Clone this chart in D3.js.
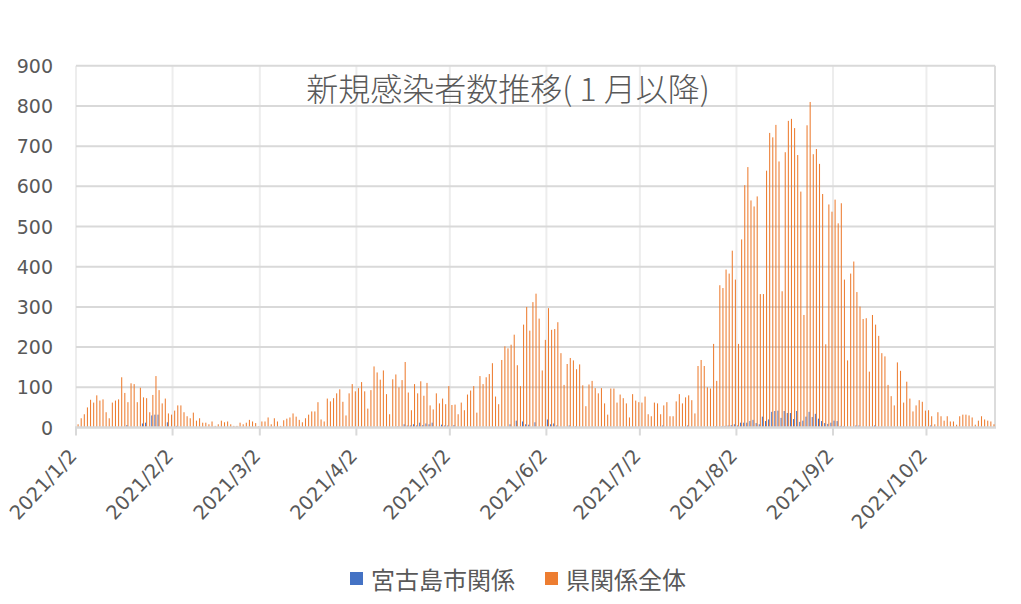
<!DOCTYPE html>
<html lang="ja">
<head>
<meta charset="utf-8">
<script src="https://cdn.jsdelivr.net/npm/d3@7/dist/d3.min.js"></script>
<style>
  html, body { margin: 0; padding: 0; background: #ffffff; }
  svg { display: block; }
</style>
</head>
<body>
<div id="chart"></div>
<script>
// Daily new cases from 2021/1/2 onward
const startDate = "2021-01-02";

// 県関係全体 (prefecture total), one value per day
const prefTotal = [
  8, 23, 33, 50, 69, 62, 80, 67, 70, 38, 23, 62, 67, 70, 125, 86, 63, 110, 108, 63,
  99, 75, 73, 38, 81, 128, 93, 60, 72, 35, 32, 42, 55, 55, 38, 28, 23, 37, 17, 23,
  12, 12, 8, 15, 4, 8, 17, 13, 15, 8, 4, 4, 12, 8, 12, 19, 15, 11, 3, 15,
  15, 25, 8, 23, 15, 4, 18, 22, 25, 35, 27, 19, 13, 23, 32, 40, 40, 63, 20, 15,
  72, 65, 73, 85, 95, 64, 30, 85, 108, 90, 98, 113, 90, 47, 93, 152, 137, 119, 142, 83,
  33, 120, 132, 100, 118, 163, 87, 43, 108, 85, 115, 79, 111, 55, 45, 85, 60, 72, 58, 103,
  56, 57, 33, 62, 43, 82, 92, 103, 37, 128, 108, 125, 133, 160, 77, 58, 168, 202, 197, 206,
  231, 155, 103, 256, 300, 241, 312, 333, 271, 142, 218, 297, 243, 245, 262, 185, 106, 158, 173, 167,
  145, 157, 105, 53, 107, 116, 98, 85, 98, 60, 32, 97, 97, 62, 82, 73, 60, 25, 83, 67,
  63, 62, 77, 33, 28, 62, 60, 33, 55, 63, 28, 28, 65, 83, 60, 75, 80, 68, 35, 153,
  168, 153, 100, 97, 208, 116, 354, 347, 393, 383, 440, 368, 208, 468, 603, 648, 565, 550, 575, 332,
  332, 639, 733, 722, 753, 662, 339, 685, 763, 768, 745, 678, 587, 280, 752, 810, 680, 693, 656, 581,
  207, 555, 537, 567, 508, 558, 368, 167, 383, 413, 337, 301, 270, 272, 139, 280, 256, 228, 185, 177,
  106, 78, 55, 162, 141, 62, 114, 72, 40, 55, 68, 64, 42, 43, 28, 8, 38, 28, 17, 28,
  15, 15, 7, 28, 32, 32, 30, 25, 7, 17, 28, 20, 17, 15, 8
];

// 宮古島市関係 (Miyakojima city), one value per day
const miyakoCity = [
  0, 0, 0, 0, 0, 0, 0, 0, 0, 0, 0, 0, 0, 0, 0, 0, 6, 0, 0, 0,
  0, 10, 12, 0, 30, 32, 32, 0, 0, 13, 0, 0, 4, 0, 0, 0, 0, 0, 0, 0,
  0, 0, 0, 0, 0, 0, 0, 0, 0, 0, 0, 0, 0, 0, 0, 0, 0, 0, 0, 0,
  0, 0, 0, 0, 0, 0, 0, 0, 0, 0, 0, 0, 0, 0, 0, 0, 0, 0, 0, 0,
  0, 0, 0, 0, 0, 0, 0, 0, 0, 0, 0, 0, 0, 0, 0, 0, 0, 0, 0, 0,
  0, 0, 0, 3, 0, 8, 5, 5, 8, 5, 12, 6, 10, 8, 12, 0, 0, 7, 5, 5,
  0, 6, 0, 0, 0, 0, 0, 0, 0, 0, 0, 0, 0, 0, 0, 0, 0, 0, 0, 8,
  0, 17, 0, 15, 8, 7, 0, 13, 0, 0, 0, 20, 8, 10, 5, 0, 0, 0, 5, 0,
  3, 0, 0, 0, 0, 0, 0, 0, 0, 0, 0, 0, 0, 0, 0, 0, 0, 0, 0, 0,
  0, 0, 0, 0, 0, 0, 0, 0, 5, 0, 0, 0, 0, 0, 0, 0, 5, 0, 0, 0,
  0, 0, 0, 0, 0, 3, 0, 3, 4, 5, 6, 8, 5, 12, 12, 12, 16, 19, 11, 8,
  27, 16, 20, 39, 41, 42, 24, 41, 36, 36, 21, 41, 14, 17, 27, 39, 26, 34, 22, 16,
  11, 9, 12, 17, 16, 4, 3, 0, 0, 0, 5, 5, 0, 0, 0, 0, 5, 0, 0, 0,
  0, 0, 0, 0, 0, 0, 0, 0, 0, 0, 0, 0, 0, 0, 5, 0, 0, 0, 0, 0,
  0, 0, 0, 0, 0, 0, 0, 0, 0, 0, 0, 0, 0, 0, 0
];

const seriesNames = ["宮古島市関係", "県関係全体"];
const seriesColors = ["#4472C4", "#ED7D31"];

const yTicks = [0, 100, 200, 300, 400, 500, 600, 700, 800, 900];
const xTickLabels = ["2021/1/2", "2021/2/2", "2021/3/2", "2021/4/2", "2021/5/2",
                     "2021/6/2", "2021/7/2", "2021/8/2", "2021/9/2", "2021/10/2"];

const titleText = "新規感染者数推移( 1 月以降)";

// ---- layout ----
const W = 1021, H = 604;
const plot = { left: 76, right: 995, top: 65.8, bottom: 427.5 };
const numFont = "'DejaVu Sans', sans-serif";
const jpFont = "'Noto Sans CJK JP', 'Noto Sans', sans-serif";
const textColor = "#595959";

const parseDay = d3.utcParse("%Y-%m-%d");
const fmtKey = d3.utcFormat("%Y/%-m/%-d");
const day0 = parseDay(startDate);
const dates = prefTotal.map((_, i) => fmtKey(d3.utcDay.offset(day0, i)));

const rows = dates.map((d, i) => ({ date: d, city: miyakoCity[i], pref: prefTotal[i] }));

const x = d3.scaleBand().domain(dates).range([plot.left, plot.right]).paddingInner(0).paddingOuter(0);
const y = d3.scaleLinear().domain([0, 900]).range([plot.bottom, plot.top]);

const svg = d3.select("#chart").append("svg")
  .attr("width", W).attr("height", H)
  .attr("viewBox", `0 0 ${W} ${H}`);

svg.append("rect").attr("width", W).attr("height", H).attr("fill", "#ffffff");

// vertical gridlines at month ticks
svg.append("g").selectAll("line").data(xTickLabels).join("line")
  .attr("x1", d => x(d)).attr("x2", d => x(d))
  .attr("y1", y(900)).attr("y2", y(0))
  .attr("stroke", "#ededed").attr("stroke-width", 2);

// right edge of plot
svg.append("line")
  .attr("x1", plot.right).attr("x2", plot.right)
  .attr("y1", y(900)).attr("y2", y(0))
  .attr("stroke", "#dcdcdc").attr("stroke-width", 2);

// horizontal gridlines
svg.append("g").selectAll("line").data(yTicks.filter(v => v > 0)).join("line")
  .attr("x1", plot.left).attr("x2", plot.right)
  .attr("y1", d => y(d)).attr("y2", d => y(d))
  .attr("stroke", "#d9d9d9").attr("stroke-width", 2);

// y axis labels
svg.append("g").selectAll("text").data(yTicks).join("text")
  .attr("x", 53).attr("y", d => y(d))
  .attr("text-anchor", "end").attr("dominant-baseline", "central")
  .attr("font-family", numFont).attr("font-size", 19)
  .attr("fill", textColor)
  .text(d => d);

// bars
const bw = 1.05;
const barG = svg.append("g");
barG.selectAll("rect.city").data(rows).join("rect")
  .attr("class", "city")
  .attr("x", d => x(d.date) + x.bandwidth() / 2 - bw)
  .attr("width", bw)
  .attr("y", d => y(d.city))
  .attr("height", d => y(0) - y(d.city))
  .attr("fill", seriesColors[0]);
barG.selectAll("rect.pref").data(rows).join("rect")
  .attr("class", "pref")
  .attr("x", d => x(d.date) + x.bandwidth() / 2)
  .attr("width", bw)
  .attr("y", d => y(d.pref))
  .attr("height", d => y(0) - y(d.pref))
  .attr("fill", seriesColors[1]);

// x axis line and ticks
svg.append("line")
  .attr("x1", plot.left - 1).attr("x2", plot.right + 1)
  .attr("y1", y(0)).attr("y2", y(0))
  .attr("stroke", "#d9d9d9").attr("stroke-width", 2.5);
svg.append("g").selectAll("line").data(xTickLabels).join("line")
  .attr("x1", d => x(d)).attr("x2", d => x(d))
  .attr("y1", y(0)).attr("y2", y(0) + 8)
  .attr("stroke", "#d9d9d9").attr("stroke-width", 2);

// x axis labels, rotated
svg.append("g").selectAll("text").data(xTickLabels).join("text")
  .attr("transform", d => `translate(${x(d) + 2},${457}) rotate(-47)`)
  .attr("text-anchor", "end")
  .attr("font-family", numFont).attr("font-size", 19.5)
  .attr("fill", textColor)
  .text(d => d);

// title
svg.append("text")
  .attr("x", 508).attr("y", 87)
  .attr("text-anchor", "middle").attr("dominant-baseline", "central")
  .attr("font-family", jpFont).attr("font-weight", 300).attr("font-size", 32)
  .attr("fill", textColor)
  .text(titleText);

// legend
const legend = svg.append("g");
const legendItems = [
  { name: seriesNames[0], color: seriesColors[0], x: 350 },
  { name: seriesNames[1], color: seriesColors[1], x: 545 }
];
legend.selectAll("rect").data(legendItems).join("rect")
  .attr("x", d => d.x).attr("y", 572)
  .attr("width", 13).attr("height", 13)
  .attr("fill", d => d.color);
legend.selectAll("text").data(legendItems).join("text")
  .attr("x", d => d.x + 21).attr("y", 578.5)
  .attr("dominant-baseline", "central")
  .attr("font-family", jpFont).attr("font-size", 24)
  .attr("fill", textColor)
  .text(d => d.name);
</script>
</body>
</html>
